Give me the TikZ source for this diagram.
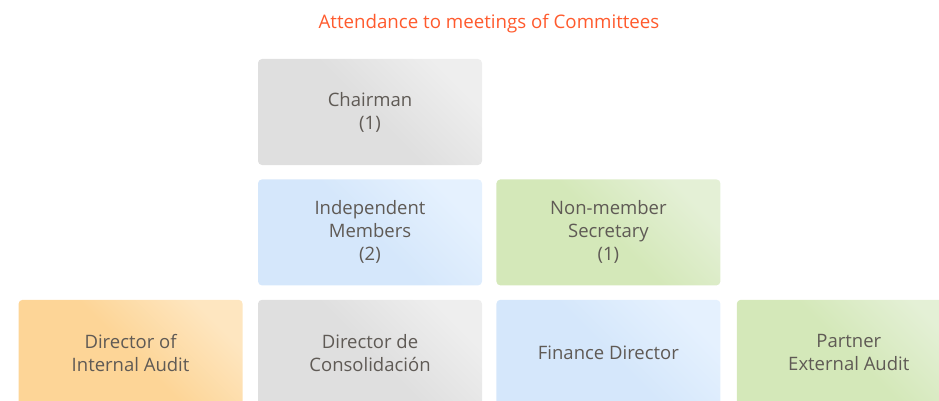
\documentclass[tikz,border=0pt]{standalone}
\usepackage{fontspec}
\setmainfont{Open Sans}
\usetikzlibrary{positioning}

% Cores das caixas
\definecolor{tituloCor}{HTML}{FF5A2D}
\definecolor{textoCor}{HTML}{5F5A55}
\definecolor{cinzaA}{HTML}{DFDFDF}
\definecolor{cinzaB}{HTML}{EEEEEE}
\definecolor{azulA}{HTML}{D5E7FB}
\definecolor{azulB}{HTML}{E5F1FE}
\definecolor{verdeA}{HTML}{D4E8B9}
\definecolor{verdeB}{HTML}{E4F0D6}
\definecolor{laranjaA}{HTML}{FDD597}
\definecolor{laranjaB}{HTML}{FEE6C0}

\tikzset{
  caixa/.style={rounded corners=4pt, minimum width=224pt, minimum height=106pt,
    inner sep=0pt, align=center, text=textoCor, font=\fontsize{18.5}{23}\selectfont},
  cinza/.style={caixa, left color=cinzaA, right color=cinzaB, middle color=cinzaA, shading angle=135},
  azul/.style={caixa, left color=azulA, right color=azulB, middle color=azulA, shading angle=135},
  verde/.style={caixa, left color=verdeA, right color=verdeB, middle color=verdeA, shading angle=135},
  laranja/.style={caixa, left color=laranjaA, right color=laranjaB, middle color=laranjaA, shading angle=135},
  titulo/.style={text=tituloCor, font=\fontsize{18.7}{23}\selectfont}
}

\begin{document}
\begin{tikzpicture}[x=1pt,y=-1pt]

\useasboundingbox (0,0) rectangle (939,401);
\clip (0,0) rectangle (939,401);

% Titulo
\node[titulo] (titulo) at (489,24) {Attendance to meetings of Committees};

% Primeira e segunda linha
\node[cinza] (presidente) at (370,112) {Chairman\\(1)};
\node[azul, below=14pt of presidente] (independentes) {Independent\\Members\\(2)};
\node[verde, right=14pt of independentes] (secretario) {Non-member\\Secretary\\(1)};

% Linha de baixo (cortada pela margem)
\node[cinza, below=14pt of independentes] (consolidacao) {Director de\\Consolidación};
\node[laranja, left=15pt of consolidacao] (auditoriaInterna) {Director of\\Internal Audit};
\node[azul, right=14pt of consolidacao] (financeiro) {Finance Director};
\node[verde, right=16pt of financeiro] (auditoriaExterna) {Partner\\External Audit};

\end{tikzpicture}
\end{document}
